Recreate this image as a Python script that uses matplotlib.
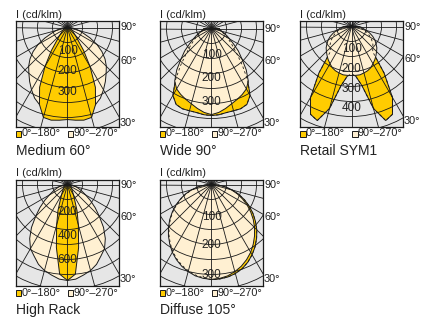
import numpy as np
import matplotlib.pyplot as plt
from matplotlib.patches import Rectangle, Circle, Polygon

# intensity (cd/klm) against angle from nadir, 0..90 deg in 5 deg steps
angles = np.arange(0, 91, 5)

medium_c0 = [449, 454, 459, 454, 400, 322, 220, 137, 78, 54, 39, 32, 24, 20, 17, 15, 12, 10, 10]
medium_c90 = [410, 410, 412, 415, 400, 380, 351, 322, 293, 268, 239, 205, 166, 122, 83, 59, 39, 24, 15]

wide_c0 = [372, 370, 365, 364, 365, 358, 330, 269, 205, 154, 120, 96, 77, 62, 51, 44, 38, 35, 34]
wide_c90 = [368, 360, 347, 333, 322, 311, 298, 274, 231, 184, 150, 115, 90, 72, 56, 42, 30, 20, 13]

retail_c0 = [239, 254, 305, 431, 508, 492, 416, 289, 168, 152, 142, 127, 112, 96, 81, 66, 51, 36, 25]
retail_c90 = [249, 249, 249, 244, 239, 231, 218, 206, 193, 180, 168, 152, 137, 119, 99, 79, 61, 51, 41]

highrack_c0 = [793, 744, 529, 347, 231, 140, 99, 74, 58, 50, 41, 37, 33, 29, 25, 21, 17, 17, 17]
highrack_c90 = [793, 785, 760, 736, 702, 653, 612, 545, 463, 372, 298, 231, 174, 132, 99, 74, 50, 37, 25]

diffuse_c0 = [328, 327, 324, 318, 309, 296, 280, 262, 242, 221, 198, 175, 151, 126, 101, 75, 49, 25, 5]
diffuse_c180 = [327, 323, 317, 308, 297, 283, 267, 248, 228, 207, 185, 162, 139, 115, 92, 69, 46, 23, 5]
diffuse_c90 = [327, 325, 320, 311, 300, 286, 270, 251, 231, 210, 188, 165, 142, 118, 95, 71, 47, 24, 5]

titles = ["Medium 60°", "Wide 90°", "Retail SYM1", "High Rack", "Diffuse 105°"]
value_labels = [[100, 200, 300], [100, 200, 300], [100, 200, 300, 400],
                [200, 400, 600], [100, 200, 300]]
angle_labels = ["90°", "60°", "30°"]
legend_labels = ["0°–180°", "90°–270°"]
axis_label = "I (cd/klm)"

W, H = 435, 323
BW, BH = 103, 106
GRID_PX = 15
GOLD = "#ffcc00"
CREAM = "#fff0d2"
BG = "#e6e6e6"
LINE = "#1a1a1a"
TXT = "#222222"

plt.rcParams["font.family"] = ["Liberation Sans", "DejaVu Sans"]

fig = plt.figure(figsize=(W / 100, H / 100), dpi=100)

# left, top (px), px per cd/klm, origin below box top (px), which plane on top
panels = [
    (medium_c0, medium_c0, medium_c90, 16, 21, 0.205, 6.5, "c0"),
    (wide_c0, wide_c0, wide_c90, 160, 21, 0.234, 7.5, "c90"),
    (retail_c0, retail_c0, retail_c90, 300, 21, 0.197, 5.5, "c90"),
    (highrack_c0, highrack_c0, highrack_c90, 16, 180, 0.121, 4.5, "c0"),
    (diffuse_c0, diffuse_c180, diffuse_c90, 160, 180, 0.29, 4.5, "c90"),
]


def outline(right, left):
    t = np.radians(angles)
    xr = np.asarray(right) * np.sin(t)
    yr = -np.asarray(right) * np.cos(t)
    xl = -np.asarray(left) * np.sin(t)
    yl = -np.asarray(left) * np.cos(t)
    x = np.concatenate([xr[::-1], xl[1:]])
    y = np.concatenate([yr[::-1], yl[1:]])
    return np.column_stack([x, y])


for i, (c0, c180, c90, left, top, s, off, on_top) in enumerate(panels):
    ax = fig.add_axes([left / W, 1 - (top + BH) / H, BW / W, BH / H])
    ax.set_xlim(-BW / 2 / s, BW / 2 / s)
    ax.set_ylim(-(BH - off) / s, off / s)
    ax.set_facecolor(BG)
    ax.set_xticks([])
    ax.set_yticks([])
    for sp in ax.spines.values():
        sp.set_color(LINE)
        sp.set_linewidth(0.9)

    gold = outline(c0, c180)
    cream = outline(c90, c90)
    if on_top == "c0":
        layers = [(cream, CREAM), (gold, GOLD)]
    else:
        layers = [(gold, GOLD), (cream, CREAM)]
    for z, (pts, col) in enumerate(layers):
        ax.add_patch(Polygon(pts, closed=True, facecolor=col, edgecolor=LINE,
                             linewidth=0.7, zorder=1 + z))
    # hidden plane drawn dashed
    if on_top == "c90":
        ax.add_patch(Polygon(gold, closed=True, fill=False, edgecolor=LINE,
                             linewidth=0.6, linestyle=(0, (3, 3)), zorder=3))

    # polar grid
    step = GRID_PX / s
    rmax = 140 / s
    r = step
    while r < rmax:
        ax.add_patch(Circle((0, 0), r, fill=False, edgecolor=LINE, linewidth=0.6, zorder=4))
        r += step
    for a in np.radians(np.arange(0, 360, 15)):
        ax.plot([0, rmax * np.sin(a)], [0, -rmax * np.cos(a)], color=LINE, lw=0.6, zorder=4)

    for v in value_labels[i]:
        ax.annotate(str(v), (0, -v), xytext=(0, -3), textcoords="offset pixels",
                    ha="center", va="center", fontsize=8.5, color=TXT, zorder=5)

    for lab, d in zip(angle_labels, [0, 33, 95]):
        ax.text(1.01, 1 - (off + d) / BH, lab, transform=ax.transAxes,
                ha="left", va="center", fontsize=7.8, color=TXT)

    ax.text(0, 1 + 1.5 / BH, axis_label, transform=ax.transAxes,
            ha="left", va="bottom", fontsize=8, color=TXT)

    # legend
    ly = -6.5 / BH
    for lx, col, lab in [(0, GOLD, legend_labels[0]), (52 / BW, CREAM, legend_labels[1])]:
        ax.add_patch(Rectangle((lx, ly - 3 / BH), 5.5 / BW, 6 / BH, transform=ax.transAxes,
                               facecolor=col, edgecolor=LINE, linewidth=0.7, clip_on=False))
        ax.text(lx + 6 / BW, ly, lab, transform=ax.transAxes, ha="left", va="center",
                fontsize=7.8, color=TXT)

    ax.text(0, -24 / BH, titles[i], transform=ax.transAxes, ha="left", va="center",
            fontsize=10, color=TXT)

fig.savefig("out.png", dpi=100)
